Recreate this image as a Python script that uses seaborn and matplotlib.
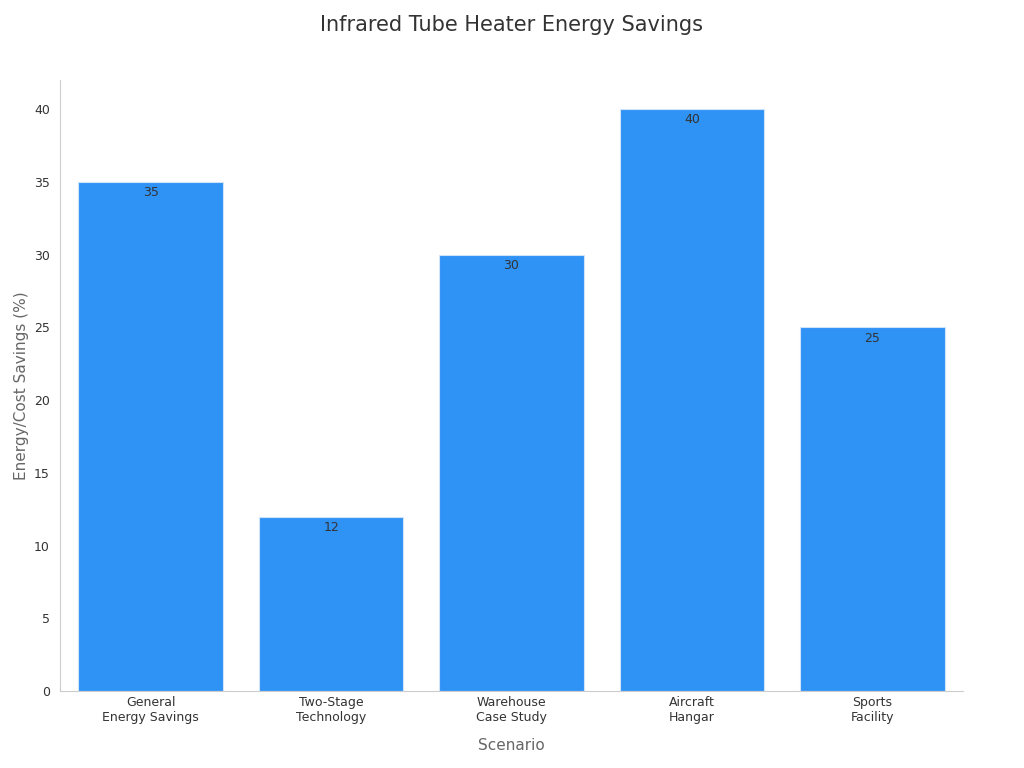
import matplotlib
matplotlib.use("Agg")
import matplotlib.pyplot as plt
import seaborn as sns
import pandas as pd

categories = ["General\nEnergy Savings", "Two-Stage\nTechnology", "Warehouse\nCase Study", "Aircraft\nHangar", "Sports\nFacility"]
values = [35, 12, 30, 40, 25]

df = pd.DataFrame({"Scenario": categories, "Savings": values})
sns.set_style("white")
fig, ax = plt.subplots(figsize=(10.24, 7.68), dpi=100)
fig.subplots_adjust(left=0.059, right=0.94, top=0.896, bottom=0.1)
sns.barplot(data=df, x="Scenario", y="Savings", color="#2f92f5", saturation=1, width=0.8,
            edgecolor="#cfe3fb", linewidth=0.8, ax=ax)
for i, v in enumerate(values):
    ax.text(i, v - 0.3, str(v), ha="center", va="top", fontsize=9, color="#333333")
ax.set_xlim(-0.5, 4.5)
ax.set_ylim(0, 42)
ax.set_yticks(range(0, 41, 5))
ax.set_xlabel("Scenario", fontsize=11, color="#666666", labelpad=10)
ax.set_ylabel("Energy/Cost Savings (%)", fontsize=11, color="#666666")
ax.set_title("Infrared Tube Heater Energy Savings", fontsize=15, color="#333333", pad=35)
ax.tick_params(axis="both", labelsize=9, colors="#333333")
ax.tick_params(axis="y", length=4, color="#999999")
ax.tick_params(axis="x", length=0)
for s in ["top", "right"]:
    ax.spines[s].set_visible(False)
for s in ["left", "bottom"]:
    ax.spines[s].set_color("#cccccc")
fig.savefig("out.png")
